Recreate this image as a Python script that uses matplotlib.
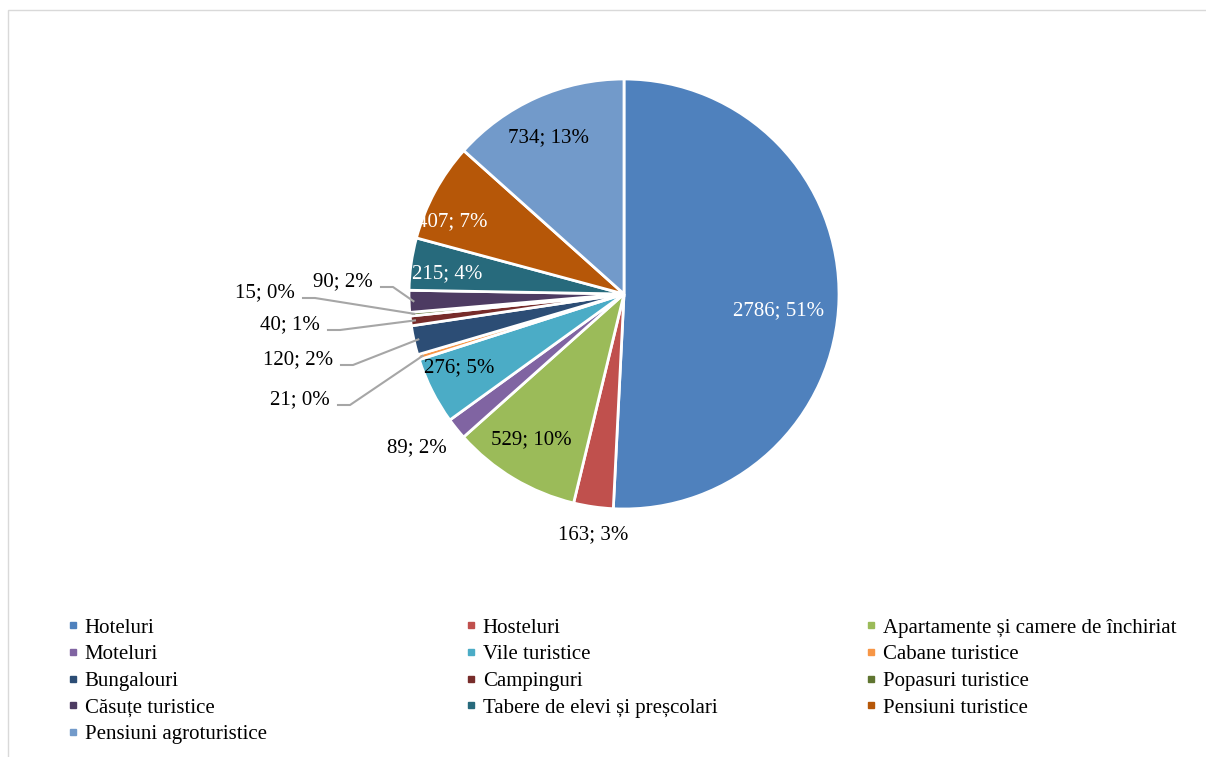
import matplotlib.pyplot as plt
import numpy as np
from matplotlib.lines import Line2D
from matplotlib.patches import Rectangle

plt.rcParams['font.family'] = ['Liberation Serif', 'DejaVu Serif']

# Data
categories = ["Hoteluri", "Hosteluri", "Apartamente și camere de închiriat", "Moteluri",
              "Vile turistice", "Cabane turistice", "Bungalouri", "Campinguri",
              "Popasuri turistice", "Căsuțe turistice", "Tabere de elevi și preșcolari",
              "Pensiuni turistice", "Pensiuni agroturistice"]
values = [2786, 163, 529, 89, 276, 21, 120, 40, 15, 90, 215, 407, 734]
percent_labels = ["51%", "3%", "10%", "2%", "5%", "0%", "2%", "1%", "0%", "2%", "4%", "7%", "13%"]
colors = ["#4F81BD", "#C0504D", "#9BBB59", "#8064A2", "#4BACC6", "#F79646", "#2C4D75",
          "#772C2A", "#5F7530", "#4D3B62", "#276A7C", "#B65708", "#729ACA"]

# label placement (pixel offsets from pie centre, y up), alignment, text colour, leader line
label_pos = [(155, -17), (-31, -241), (-93, -146), (-207, -154), (-165, -74),
             (-294, -106), (-291, -66), (-304, -31), (-329, 1), (-251, 12),
             (-177, 20), (-172, 72), (-76, 156)]
label_ha = ["center"] * 5 + ["right"] * 5 + ["center"] * 3
label_color = ["white", "black", "black", "black", "black", "black", "black", "black",
               "black", "black", "white", "white", "black"]
has_leader = [False] * 5 + [True] * 5 + [False] * 3

W, H = 1206, 757
fig = plt.figure(figsize=(W / 100, H / 100), dpi=100)
ax = fig.add_axes([0, 0, 1, 1])

cx, cy, R = 624, H - 294, 215
wedges, _ = ax.pie(values, colors=colors, startangle=90, counterclock=False,
                   radius=R, center=(cx, cy), frame=True,
                   wedgeprops=dict(edgecolor="white", linewidth=2))
ax.set_xlim(0, W)
ax.set_ylim(0, H)
ax.set_aspect("equal")
ax.axis("off")

for i, w in enumerate(wedges):
    tx, ty = cx + label_pos[i][0], cy + label_pos[i][1]
    ax.text(tx, ty, f"{values[i]}; {percent_labels[i]}", ha=label_ha[i], va="center",
            fontsize=15, color=label_color[i])
    if has_leader[i]:
        mid = np.deg2rad((w.theta1 + w.theta2) / 2)
        ex, ey = cx + R * 0.98 * np.cos(mid), cy + R * 0.98 * np.sin(mid)
        sx, sy = tx + 8, ty - 5
        ax.plot([sx, sx + 12, ex], [sy, sy, ey], color="#A6A6A6", lw=1.5)

# outer chart frame
fig.patches.append(Rectangle((8 / W, -0.1), 1.2, (H - 10) / H + 0.1, transform=fig.transFigure,
                             fill=False, edgecolor="#D9D9D9", lw=1))

# legend, three columns filled row by row
col_x = [68, 466, 866]
for c in range(3):
    idx = list(range(c, len(categories), 3))
    handles = [Line2D([], [], marker="s", linestyle="none", markersize=4.5,
                      markerfacecolor=colors[i], markeredgecolor=colors[i]) for i in idx]
    fig.legend(handles, [categories[i] for i in idx], loc="upper left",
               bbox_to_anchor=(col_x[c] / W, 1 - 618 / H), frameon=False,
               fontsize=15, handlelength=0.5, handletextpad=0.3,
               labelspacing=0.34, borderpad=0, borderaxespad=0)

fig.savefig("out.png", dpi=100)
